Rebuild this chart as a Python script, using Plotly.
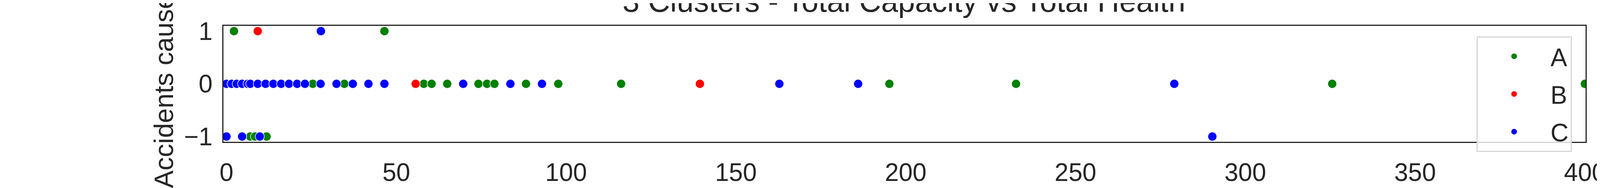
import plotly.graph_objects as go

# cluster points (x = total capacity, y = accidents caused)
a_x = [25.4, 34.7, 58.1, 60.4, 65.0, 74.2, 76.7, 78.9, 88.2, 97.7, 116.2, 195.2, 232.5, 325.6, 400,
       2.2, 46.5,
       7.0, 8.4, 11.8]
a_y = [0] * 15 + [1] * 2 + [-1] * 3

b_x = [55.7, 139.4, 9.2]
b_y = [0, 0, 1]

c_x = [0, 1.5, 3.0, 4.6, 6.2, 7.0, 9.2, 11.5, 13.8, 16.1, 18.4, 20.8, 23.1, 27.7, 32.4, 37.2,
       41.8, 46.5, 69.7, 83.6, 92.9, 162.8, 186.0, 279.1,
       27.8,
       0, 4.6, 9.8, 290.3]
c_y = [0] * 24 + [1] + [-1] * 4

x_ticks = [0, 50, 100, 150, 200, 250, 300, 350, 400]
y_ticks = [-1, 0, 1]

FONT = "Liberation Sans, Arial, sans-serif"
INK = "#262626"

fig = go.Figure()
for name, xs, ys, col in [("A", a_x, a_y, "green"), ("B", b_x, b_y, "red"), ("C", c_x, c_y, "blue")]:
    fig.add_trace(go.Scatter(
        x=xs, y=ys, mode="markers", name=name, legendgroup=name,
        marker=dict(color=col, size=23, line=dict(color="white", width=1.5)),
    ))

axis_style = dict(
    showline=True, mirror=True, linecolor=INK, linewidth=3,
    showgrid=False, zeroline=False, ticks="",
    tickfont=dict(family=FONT, size=64, color=INK),
)

fig.update_layout(
    width=4500, height=480,
    margin=dict(l=564, r=449, t=58, b=59),
    paper_bgcolor="white", plot_bgcolor="white",
    font=dict(family=FONT, color=INK),
    title=dict(
        text="3 Clusters - Total Capacity vs Total Health",
        x=0.5125, xanchor="center", y=0.955, yanchor="bottom", yref="container",
        font=dict(size=78, family=FONT, color=INK),
    ),
    xaxis=dict(range=[-0.9, 400.2], tickvals=x_ticks, ticklabelstandoff=20, **axis_style),
    yaxis=dict(
        range=[-1.1, 1.1], tickvals=y_ticks, ticklabelstandoff=12,
        title=dict(text="Accidents caused", font=dict(size=68, family=FONT, color=INK), standoff=6),
        **axis_style,
    ),
    legend=dict(
        x=0.99, xanchor="right", y=0.91, yanchor="top",
        bgcolor="rgba(255,255,255,0.8)", bordercolor="#d6d6d6", borderwidth=3,
        font=dict(size=64, family=FONT, color=INK),
        itemwidth=176, tracegroupgap=10,
    ),
    showlegend=True,
)

fig.write_html("out.html")
